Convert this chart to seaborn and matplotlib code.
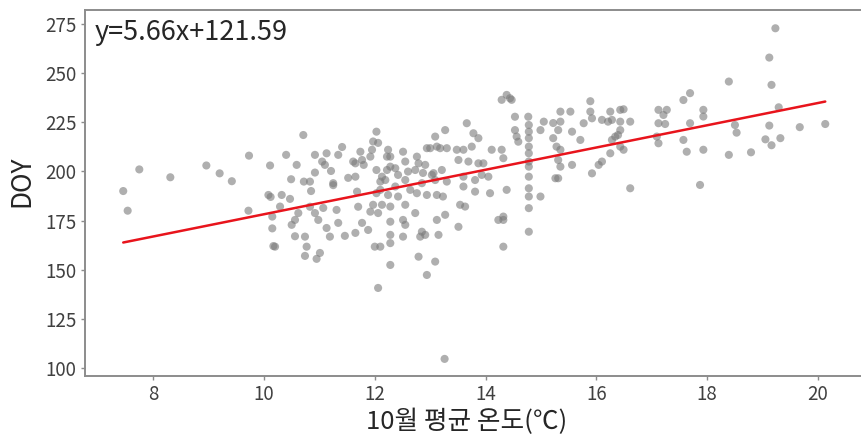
import numpy as np
import pandas as pd
import matplotlib
matplotlib.use("Agg")
import matplotlib.pyplot as plt
import seaborn as sns

# October mean temperature (°C) and day of year
temp = [
    7.46, 7.54, 7.75, 8.31, 8.96, 9.20, 9.42, 9.73, 9.72,
    10.11, 10.08, 10.12, 10.15, 10.15, 10.17,
    10.71, 10.40, 10.59, 10.49, 10.72, 10.92, 10.92, 11.13, 11.05, 11.10,
    11.21, 11.41, 11.34, 11.25, 10.85, 10.32, 10.47, 10.29, 10.20, 10.50,
    10.56, 10.62, 10.56, 10.74, 10.77, 10.74, 10.95, 11.01, 10.83, 10.92,
    10.98, 11.07, 11.13, 11.19, 11.31, 11.34, 11.46, 11.52, 11.65, 11.61,
    11.77, 11.74, 11.95, 12.03, 11.97, 11.68, 11.70, 11.65, 11.77, 11.88,
    11.92, 11.97, 12.00, 12.10, 12.06, 12.03, 12.13, 12.10,
    12.06, 12.24, 12.28, 12.51, 12.55, 12.76, 12.79, 12.22, 12.37, 12.42,
    12.60, 12.73, 12.91, 12.87, 13.00, 13.09, 13.18, 13.27, 13.30, 13.48,
    13.60, 13.66, 13.78, 13.87, 13.75, 14.11, 14.29, 13.51, 13.69, 13.87,
    12.19, 12.37, 12.55, 12.64, 12.85, 13.03, 13.21, 13.09, 13.30, 13.60,
    13.81, 13.93, 14.05, 12.03, 12.24, 12.42, 12.76, 12.94, 13.12, 13.23,
    13.60, 13.81, 14.08, 12.13, 12.28, 12.55, 13.54, 13.63, 12.06, 12.28,
    12.51, 12.55, 12.73, 13.12, 13.27, 13.51, 12.28, 12.28, 12.51, 12.85,
    12.91, 12.82, 13.15, 12.28, 12.79, 13.09, 12.94, 14.32, 14.32, 13.26,
    14.38, 14.44, 14.53, 14.53, 14.56, 14.59, 14.29, 14.32, 14.38, 14.23,
    14.32, 14.77, 14.78, 14.78, 14.78, 14.78, 14.78, 14.78, 14.78, 14.78,
    14.78, 14.78, 14.78, 14.78, 14.99, 15.05, 14.99, 15.22, 15.35, 15.35,
    15.53, 15.31, 15.22, 15.28, 15.35, 15.31, 15.35, 15.31, 15.26, 15.56,
    15.56, 15.77, 15.89, 15.89, 15.92, 15.71, 16.10, 16.21, 16.28, 16.25,
    16.43, 16.25, 16.10, 16.04, 15.92, 16.28, 16.39, 16.43, 16.34,
    16.49, 16.43, 16.61, 16.43, 16.49, 16.61, 17.12, 17.27, 17.21, 17.12,
    17.24, 17.09, 17.12, 17.57, 17.69, 17.93, 17.93, 17.69, 17.57, 17.63,
    17.93, 17.87, 18.39, 18.50, 18.53, 18.39,
    19.23, 19.12, 19.16, 19.29, 19.12, 19.67, 20.13, 19.05, 19.32, 19.16,
    18.79,
    14.47, 11.92, 12.22, 12.94, 13.12, 10.83, 11.25, 11.65, 11.80, 12.10,
    12.28, 13.06, 13.96,
]
doy = [
    190.0, 180.0, 201.0, 197.0, 203.0, 199.0, 195.0, 208.0, 180.0,
    203.0, 188.0, 187.0, 177.0, 171.0, 162.0,
    218.5, 208.4, 203.3, 196.0, 194.8, 199.4, 208.4, 209.2, 205.0, 203.3,
    200.2, 212.4, 208.4, 193.0, 190.0, 188.0, 186.0, 182.1, 161.7, 172.8,
    175.3, 178.8, 167.0, 166.8, 161.7, 157.0, 155.5, 158.5, 182.0, 178.8,
    175.3, 181.4, 171.2, 166.8, 180.4, 173.8, 167.2, 196.7, 197.3, 205.0,
    205.8, 210.0, 211.0, 220.2, 215.2, 189.7, 182.0, 168.7, 173.8, 170.2,
    179.5, 183.0, 161.7, 161.7, 140.7, 200.7, 197.3, 190.6,
    214.5, 211.0, 207.5, 210.0, 205.0, 207.5, 204.1, 200.7, 201.6, 198.2,
    199.9, 200.7, 203.3, 199.2, 211.8, 217.7, 211.8, 221.0, 211.8, 211.0,
    211.0, 224.5, 219.4, 216.9, 212.6, 211.0, 236.4, 205.8, 205.0, 204.1,
    195.6, 192.3, 195.6, 190.6, 194.0, 198.2, 200.7, 195.6, 194.8, 197.3,
    195.6, 198.2, 197.3, 188.9, 188.0, 187.2, 188.9, 188.0, 188.0, 187.2,
    192.3, 189.7, 188.9, 183.0, 182.1, 183.0, 183.0, 182.1, 178.8, 174.4,
    175.3, 172.8, 178.8, 175.3, 177.9, 171.8, 167.7, 163.5, 166.8, 169.3,
    167.7, 166.8, 167.7, 152.4, 156.6, 154.1, 147.3, 175.3, 161.7, 104.6,
    238.9, 237.2, 227.8, 221.0, 217.7, 215.1, 211.0, 206.7, 190.6, 175.3,
    177.0, 227.8, 223.6, 220.2, 216.9, 212.6, 209.2, 205.0, 202.4, 197.3,
    191.4, 187.2, 181.3, 169.3, 187.2, 225.3, 221.0, 224.6, 225.3, 230.4,
    230.4, 221.0, 216.9, 212.6, 211.0, 205.8, 202.4, 196.5, 196.5, 220.2,
    203.3, 224.5, 235.7, 230.4, 227.0, 216.0, 226.2, 225.3, 226.2, 230.4,
    231.3, 209.2, 205.0, 203.3, 199.0, 216.0, 218.5, 212.6, 217.7,
    231.6, 225.3, 225.3, 221.0, 211.0, 191.4, 231.3, 231.3, 228.7, 224.5,
    224.1, 217.7, 214.3, 236.3, 239.8, 231.3, 227.9, 224.5, 216.0, 210.0,
    211.0, 193.1, 245.7, 223.6, 219.7, 208.4,
    272.8, 257.9, 244.0, 232.6, 223.3, 222.5, 224.1, 216.3, 216.9, 213.3,
    209.7,
    236.4, 207.5, 207.5, 211.8, 212.6, 194.8, 194.0, 204.1, 203.3, 194.8,
    202.4, 199.1, 204.1,
]

# Fitted linear trend
slope = 5.66
intercept = 121.59

df = pd.DataFrame({"temp": temp, "doy": doy})
fit = pd.DataFrame({"temp": [min(temp), max(temp)]})
fit["doy"] = slope * fit["temp"] + intercept

sns.set_theme(style="ticks")
plt.rcParams["font.family"] = ["Noto Sans CJK KR", "DejaVu Sans"]

fig = plt.figure(figsize=(8.62, 4.44), dpi=100)
# the plot frame runs past the right edge of the figure
ax = fig.add_axes([85 / 862, 68 / 444, 794 / 862, 366 / 444])

sns.scatterplot(data=df, x="temp", y="doy", ax=ax, color="#7a7a7a",
                alpha=0.6, s=34, edgecolor="none", linewidth=0)
sns.lineplot(data=fit, x="temp", y="doy", ax=ax, color="#e8141c",
             linewidth=1.8)

ax.set_xlim(6.77, 21.1)
ax.set_ylim(95.9, 282.1)
ax.set_xticks([8, 10, 12, 14, 16, 18, 20])
ax.set_yticks([100, 125, 150, 175, 200, 225, 250, 275])

for side in ["left", "bottom", "top"]:
    ax.spines[side].set_color("#8c8c8c")
    ax.spines[side].set_linewidth(1.4)
ax.spines["right"].set_visible(False)

ax.tick_params(axis="both", length=3, width=1, color="#8c8c8c",
               labelsize=13.5, labelcolor="#404040", pad=3)

ax.set_xlabel("10월 평균 온도(℃)", fontsize=18.5, color="#262626")
ax.set_ylabel("DOY", fontsize=19, color="#262626")
ax.xaxis.set_label_coords(0.481, -0.09)
ax.yaxis.set_label_coords(-0.062, 0.531)

ax.text(0.0125, 0.975, f"y={slope}x+{intercept}", transform=ax.transAxes,
        fontsize=19.5, color="#262626", va="top", ha="left")

fig.savefig("out.png", dpi=100)
